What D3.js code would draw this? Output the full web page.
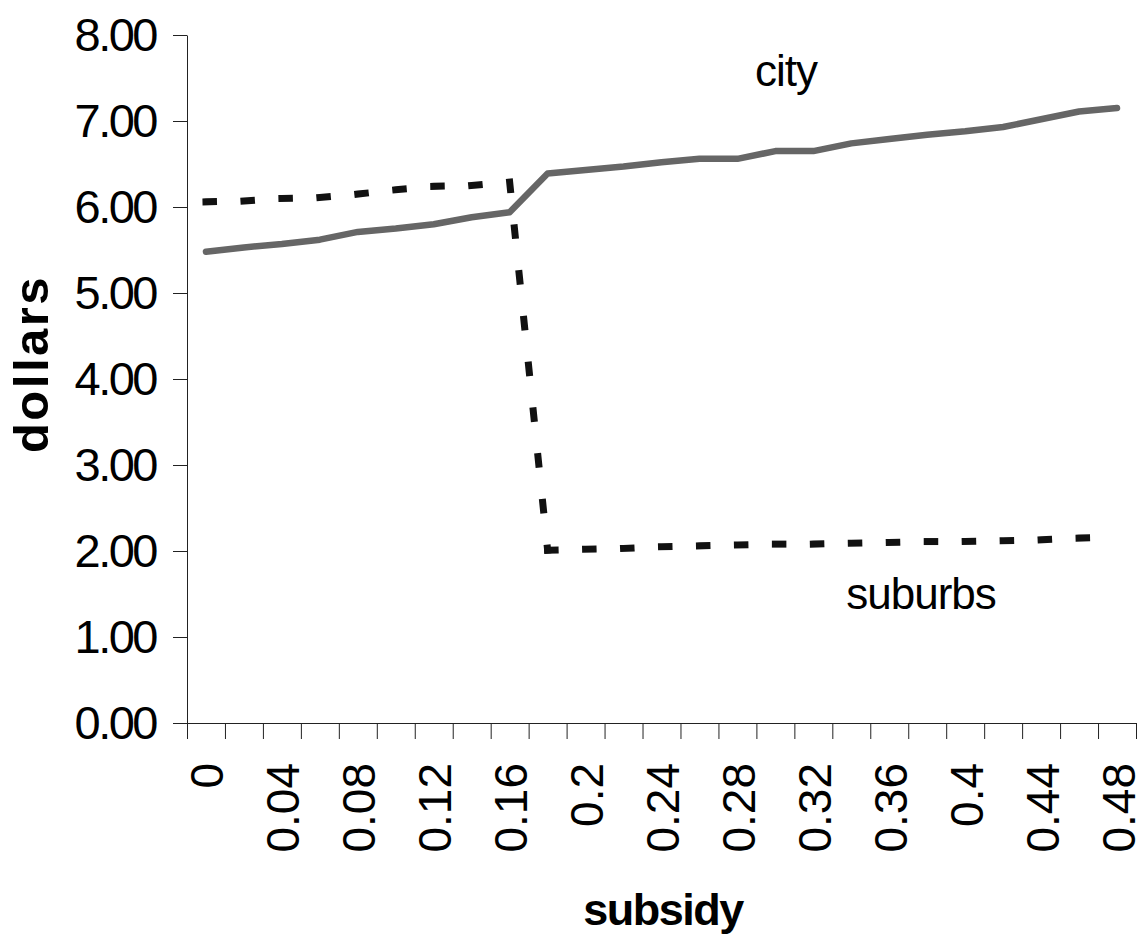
<!DOCTYPE html>
<html>
<head>
<meta charset="utf-8">
<script src="https://cdn.jsdelivr.net/npm/d3@7"></script>
<style>
  html, body { margin: 0; padding: 0; background: #fff; }
  svg { display: block; }
  text { font-family: "Liberation Sans", Arial, sans-serif; fill: #000; }
</style>
</head>
<body>
<svg id="chart" width="1144" height="940"></svg>
<script>
// ---- data ----
const categories = ["0","0.02","0.04","0.06","0.08","0.1","0.12","0.14","0.16","0.18",
  "0.2","0.22","0.24","0.26","0.28","0.3","0.32","0.34","0.36","0.38",
  "0.4","0.42","0.44","0.46","0.48"];
const xTickLabels = ["0","0.04","0.08","0.12","0.16","0.2","0.24","0.28","0.32","0.36","0.4","0.44","0.48"];
const cityValues = [5.48, 5.53, 5.57, 5.62, 5.71, 5.75, 5.80, 5.88, 5.94, 6.39,
  6.43, 6.47, 6.52, 6.56, 6.56, 6.65, 6.65, 6.74, 6.79, 6.84,
  6.88, 6.93, 7.02, 7.11, 7.15];
const suburbsValues = [6.06, 6.07, 6.10, 6.11, 6.15, 6.20, 6.24, 6.25, 6.29, 2.01,
  2.02, 2.03, 2.05, 2.06, 2.07, 2.08, 2.08, 2.09, 2.10, 2.11,
  2.11, 2.12, 2.13, 2.15, 2.16];
const yTickValues = [0, 1, 2, 3, 4, 5, 6, 7, 8];
const yAxisTitle = "dollars";
const xAxisTitle = "subsidy";
const seriesLabels = ["city", "suburbs"];

// ---- layout ----
const plotLeft = 187, plotRight = 1136, plotTop = 35, plotBottom = 723;
const svg = d3.select("#chart");

const x = d3.scaleBand().domain(categories).range([plotLeft, plotRight]).padding(0);
const xb = d3.scaleLinear().domain([0, categories.length]).range([plotLeft, plotRight]);
const y = d3.scaleLinear().domain([0, 8]).range([plotBottom, plotTop]);
const cx = c => x(c) + x.bandwidth() / 2;

// y axis
const yAxis = svg.append("g")
  .attr("transform", `translate(${plotLeft},0)`)
  .call(d3.axisLeft(y).tickValues(yTickValues).tickSize(14).tickSizeOuter(0)
    .tickPadding(17).tickFormat(d3.format(".2f")));
yAxis.selectAll("path, line").attr("stroke", "#222").attr("stroke-width", 1);
yAxis.selectAll("text")
  .attr("font-size", 47).attr("letter-spacing", "-2.5px")
  .attr("font-family", "'Liberation Sans', Arial, sans-serif")
  .attr("fill", "#000").attr("dy", "0.32em");

// x axis: boundary ticks between categories
const xTicksAxis = svg.append("g")
  .attr("transform", `translate(0,${plotBottom})`)
  .call(d3.axisBottom(xb).tickValues(d3.range(categories.length + 1))
    .tickSize(16).tickSizeOuter(0).tickFormat(""));
xTicksAxis.selectAll("path, line").attr("stroke", "#222").attr("stroke-width", 1);

// x axis labels (every other category)
const xLabels = svg.append("g")
  .attr("transform", `translate(0,${plotBottom})`)
  .call(d3.axisBottom(x).tickValues(xTickLabels).tickSize(0).tickSizeOuter(0));
xLabels.select(".domain").remove();
xLabels.selectAll("text")
  .attr("transform", "rotate(-90)")
  .attr("x", -40).attr("y", 17.5).attr("dy", 0)
  .attr("text-anchor", "end")
  .attr("font-size", 46)
  .attr("font-family", "'Liberation Sans', Arial, sans-serif")
  .attr("fill", "#000");

// city line
const line = d3.line().x(d => cx(d.c)).y(d => y(d.v));
const cityPts = categories.map((c, i) => ({ c, v: cityValues[i] }));
svg.append("path")
  .attr("d", line(cityPts))
  .attr("fill", "none").attr("stroke", "#666666")
  .attr("stroke-width", 6.5)
  .attr("stroke-linejoin", "round").attr("stroke-linecap", "round");

// suburbs dashed line (dash pattern restarts per segment, as in the original)
const subPts = categories.map((c, i) => ({ c, v: suburbsValues[i] }));
const segs = d3.pairs(subPts);
svg.append("g").selectAll("path").data(segs).join("path")
  .attr("d", d => line(d))
  .attr("fill", "none").attr("stroke", "#111")
  .attr("stroke-width", 7)
  .attr("stroke-dasharray", "7.5 38.5")
  .attr("stroke-linecap", "square");

// series labels
svg.append("text").attr("x", 786).attr("y", 86).attr("text-anchor", "middle")
  .attr("font-size", 44).attr("letter-spacing", "-1px").text(seriesLabels[0]);
svg.append("text").attr("x", 921).attr("y", 609).attr("text-anchor", "middle")
  .attr("font-size", 44).attr("letter-spacing", "-1px").text(seriesLabels[1]);

// axis titles
svg.append("text").attr("x", 663).attr("y", 925).attr("text-anchor", "middle")
  .attr("font-size", 45).attr("font-weight", "bold").attr("letter-spacing", "-1.5px")
  .text(xAxisTitle);
svg.append("text")
  .attr("transform", "translate(48,364) rotate(-90)")
  .attr("text-anchor", "middle")
  .attr("font-size", 49).attr("font-weight", "bold").attr("letter-spacing", "2.5px")
  .text(yAxisTitle);
</script>
</body>
</html>
